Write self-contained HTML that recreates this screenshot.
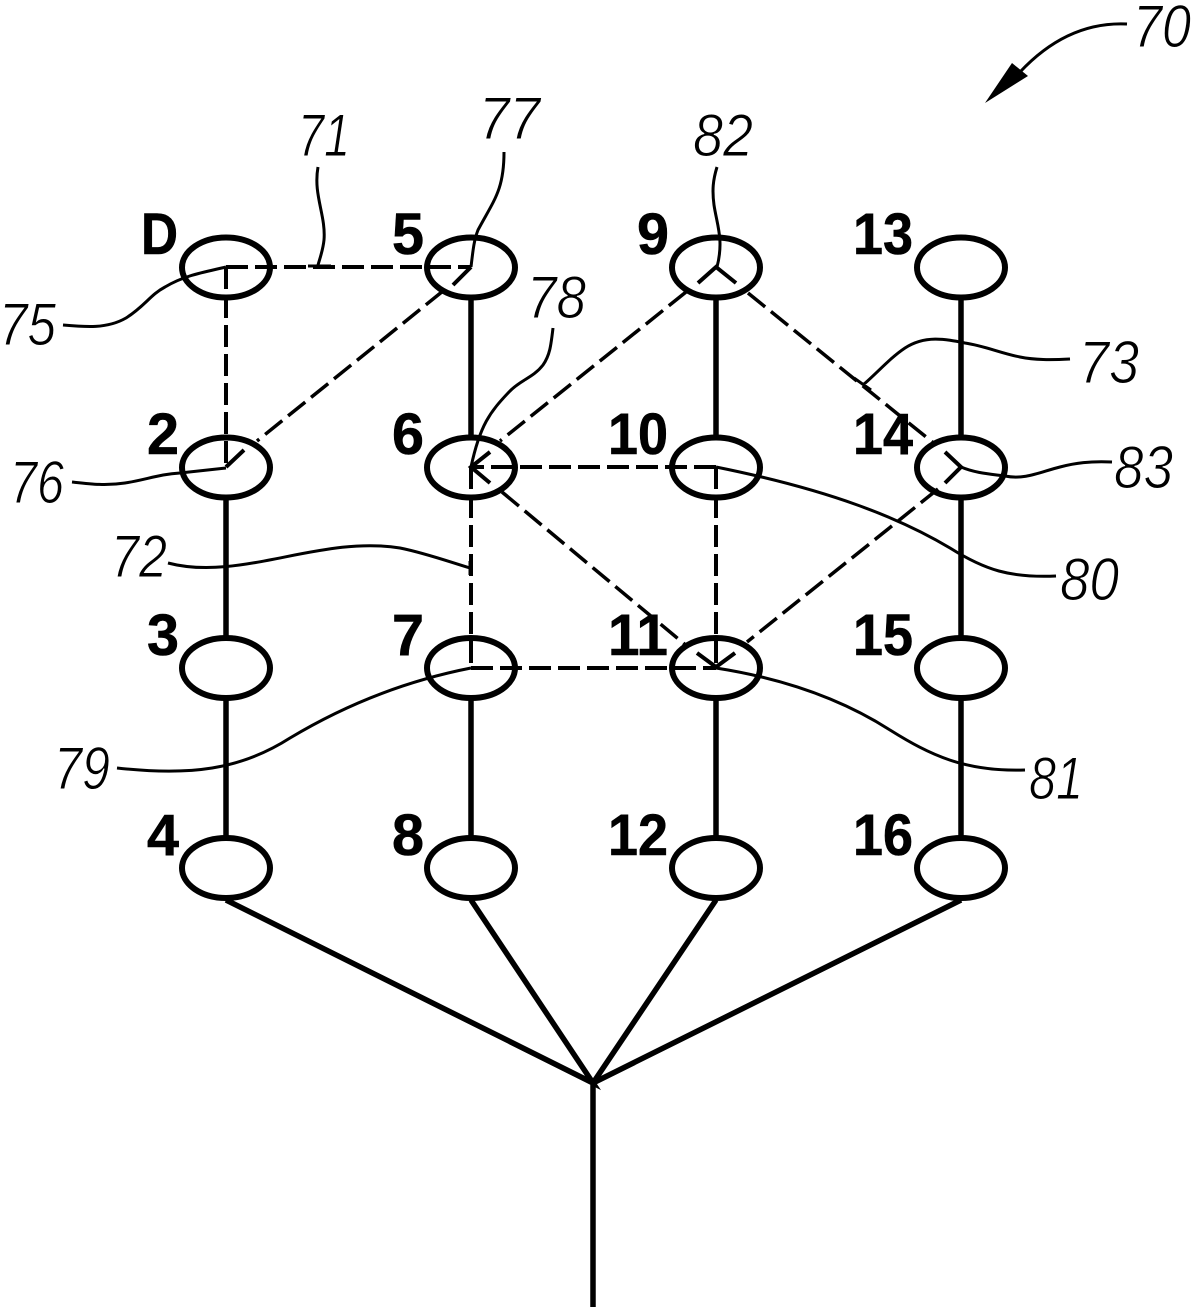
<!DOCTYPE html>
<html><head><meta charset="utf-8"><style>
html,body{margin:0;padding:0;background:#fff;width:1197px;height:1313px;overflow:hidden}
svg{display:block}
.b{font:bold 58px "Liberation Sans",sans-serif;fill:#000;stroke:#000;stroke-width:.6}
.i{font:italic 60px "Liberation Sans",sans-serif;fill:#000;stroke:#fff;stroke-width:1}
</style></head><body>
<svg width="1197" height="1313" viewBox="0 0 1197 1313" xmlns="http://www.w3.org/2000/svg">
<g fill="none" stroke="#000" stroke-width="5.5">
<path d="M226 498V636M226 698V836M471 298V436M471 698V836M716 298V436M716 698V836M961 298V436M961 498V636M961 698V836"/>
<path d="M226 900L593 1083L471 900M593 1083L716 900M593 1083L961 900M593 1083V1307"/>
</g>
<g fill="none" stroke="#000" stroke-width="4" stroke-dasharray="22 7">
<path d="M226 267H471M226 267V467M471 467V668M716 467V668M716 467H471M471 668H716"/>
</g>
<g fill="none" stroke="#000" stroke-width="3.5" stroke-dasharray="22 7.5">
<path d="M443 291L257 441M686 292L500 441M502 492L688 647M748 293L936 445M938 489L747 642"/>
</g>
<g fill="none" stroke="#000" stroke-width="4">
<path d="M490 452L471 467L490 483M697 653L716 667L735 653M945 452L961 467L945 483M698 283L716 267L736 283M226 467L244 450M471 267L453 285"/>
</g>
<g fill="none" stroke="#000" stroke-width="6">
<ellipse cx="226" cy="267.5" rx="44" ry="30"/><ellipse cx="471" cy="267.5" rx="44" ry="30"/><ellipse cx="716" cy="267.5" rx="44" ry="30"/><ellipse cx="961" cy="267.5" rx="44" ry="30"/>
<ellipse cx="226" cy="467.5" rx="44" ry="30"/><ellipse cx="471" cy="467.5" rx="44" ry="30"/><ellipse cx="716" cy="467.5" rx="44" ry="30"/><ellipse cx="961" cy="467.5" rx="44" ry="30"/>
<ellipse cx="226" cy="668" rx="44" ry="30"/><ellipse cx="471" cy="668" rx="44" ry="30"/><ellipse cx="716" cy="668" rx="44" ry="30"/><ellipse cx="961" cy="668" rx="44" ry="30"/>
<ellipse cx="226" cy="868" rx="44" ry="30"/><ellipse cx="471" cy="868" rx="44" ry="30"/><ellipse cx="716" cy="868" rx="44" ry="30"/><ellipse cx="961" cy="868" rx="44" ry="30"/>
</g>
<g fill="none" stroke="#000" stroke-width="3">
<path d="M318 167C313 195 326 215 324 240C323 250 320 258 318 265M308 266H331"/>
<path d="M504 152C504 190 494 200 478 230C474 240 473 250 471 267"/>
<path d="M63 325C85 327 107 329 126 318C145 306 150 295 165 287C185 275 205 272 226 267"/>
<path d="M72 482C90 484 105 486 125 483C145 480 160 474 180 473L226 468"/>
<path d="M553 328C551 345 550 355 543 365C533 378 520 380 509 392C490 412 480 425 471 467"/>
<path d="M168 563C240 582 320 535 400 548C425 553 450 562 470 568M470 561V575"/>
<path d="M117 768C190 776 240 770 290 738C350 702 410 680 471 668"/>
<path d="M1056 576C1010 578 985 570 950 548C900 518 830 490 716 467"/>
<path d="M1025 770C965 772 930 755 890 730C840 698 780 678 716 668"/>
<path d="M1112 462C1090 461 1075 463 1060 467C1040 472 1025 480 1005 476C990 474 975 473 961 467"/>
<path d="M1070 359C1050 360 1035 360 1020 357C1000 353 985 346 965 343C945 339 925 335 905 348C890 358 878 372 863 385M854 378L871 390"/>
<path d="M717 167C713 180 712 190 714 205C717 225 724 240 717 267"/>
<path d="M1127 24C1085 22 1050 40 1020 72"/>
</g>
<path d="M985 103L1012 63L1028 76Z" fill="#000"/>
<text class="b" x="141" y="254" textLength="37" lengthAdjust="spacingAndGlyphs">D</text>
<text class="b" x="392" y="254" textLength="32" lengthAdjust="spacingAndGlyphs">5</text>
<text class="b" x="637" y="254" textLength="32" lengthAdjust="spacingAndGlyphs">9</text>
<text class="b" x="853" y="254" textLength="60" lengthAdjust="spacingAndGlyphs">13</text>
<text class="b" x="147" y="454" textLength="32" lengthAdjust="spacingAndGlyphs">2</text>
<text class="b" x="392" y="454" textLength="32" lengthAdjust="spacingAndGlyphs">6</text>
<text class="b" x="608" y="454" textLength="60" lengthAdjust="spacingAndGlyphs">10</text>
<text class="b" x="853" y="454" textLength="60" lengthAdjust="spacingAndGlyphs">14</text>
<text class="b" x="147" y="655" textLength="32" lengthAdjust="spacingAndGlyphs">3</text>
<text class="b" x="392" y="655" textLength="32" lengthAdjust="spacingAndGlyphs">7</text>
<text class="b" x="608" y="655" textLength="60" lengthAdjust="spacingAndGlyphs">11</text>
<text class="b" x="853" y="655" textLength="60" lengthAdjust="spacingAndGlyphs">15</text>
<text class="b" x="147" y="855" textLength="32" lengthAdjust="spacingAndGlyphs">4</text>
<text class="b" x="392" y="855" textLength="32" lengthAdjust="spacingAndGlyphs">8</text>
<text class="b" x="608" y="855" textLength="60" lengthAdjust="spacingAndGlyphs">12</text>
<text class="b" x="853" y="855" textLength="60" lengthAdjust="spacingAndGlyphs">16</text>
<text class="i" x="1133" y="47" textLength="58" lengthAdjust="spacingAndGlyphs">70</text>
<text class="i" x="298" y="156" textLength="52" lengthAdjust="spacingAndGlyphs">71</text>
<text class="i" x="479" y="139" textLength="61" lengthAdjust="spacingAndGlyphs">77</text>
<text class="i" x="693" y="156" textLength="60" lengthAdjust="spacingAndGlyphs">82</text>
<text class="i" x="-1" y="345" textLength="57" lengthAdjust="spacingAndGlyphs">75</text>
<text class="i" x="527" y="318" textLength="59" lengthAdjust="spacingAndGlyphs">78</text>
<text class="i" x="1079" y="383" textLength="60" lengthAdjust="spacingAndGlyphs">73</text>
<text class="i" x="10" y="503" textLength="54" lengthAdjust="spacingAndGlyphs">76</text>
<text class="i" x="1114" y="488" textLength="59" lengthAdjust="spacingAndGlyphs">83</text>
<text class="i" x="111" y="577" textLength="56" lengthAdjust="spacingAndGlyphs">72</text>
<text class="i" x="1060" y="600" textLength="59" lengthAdjust="spacingAndGlyphs">80</text>
<text class="i" x="54" y="789" textLength="56" lengthAdjust="spacingAndGlyphs">79</text>
<text class="i" x="1029" y="799" textLength="54" lengthAdjust="spacingAndGlyphs">81</text>
</svg>
</body></html>
